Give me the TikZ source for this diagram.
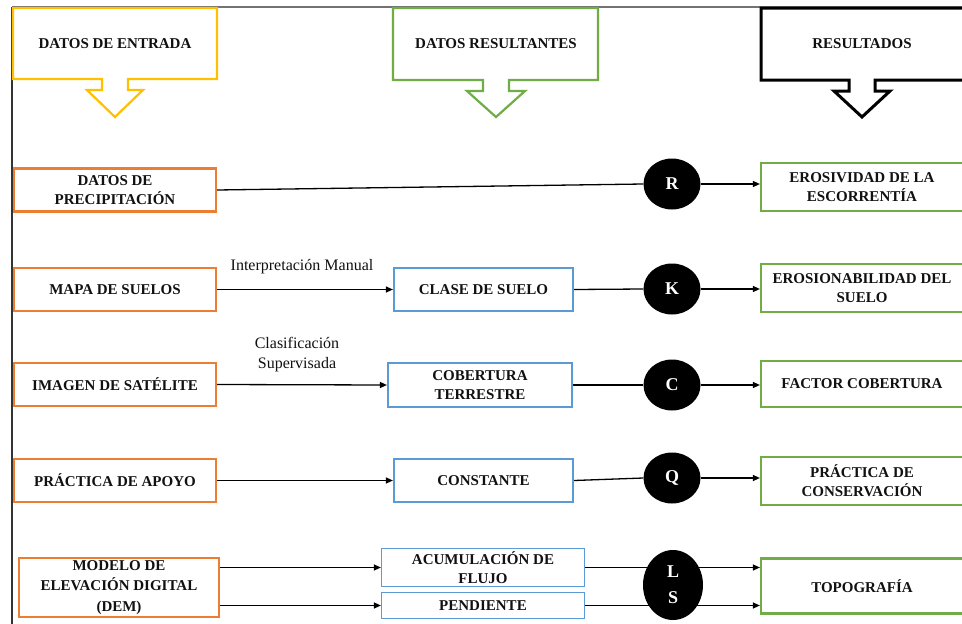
\documentclass[tikz,border=0pt]{standalone}
\usepackage{fontspec}
\setmainfont{Liberation Serif}
\usetikzlibrary{arrows.meta,shapes.geometric}
\definecolor{myorange}{HTML}{ED7D31}
\definecolor{myblue}{HTML}{5B9BD5}
\definecolor{mygreen}{HTML}{70AD47}
\definecolor{myyellow}{HTML}{FFC000}
\definecolor{txt}{HTML}{111111}
\begin{document}
\begin{tikzpicture}[x=1pt,y=-1pt,
  box/.style={draw, line width=2.2pt, fill=white, align=center, inner sep=1pt,
    font=\fontsize{15}{19}\selectfont\bfseries, text=txt},
  inbox/.style={box, draw=myorange, minimum width=202pt, minimum height=43pt},
  midbox/.style={box, draw=myblue, minimum height=43pt},
  thinbox/.style={box, draw=myblue, line width=1.2pt, minimum width=203pt},
  outbox/.style={box, draw=mygreen, minimum width=202pt, minimum height=48pt},
  factor/.style={ellipse, fill=black, minimum width=57pt, minimum height=51pt, inner sep=0pt,
    text=white, font=\fontsize{18}{27}\selectfont\bfseries, align=center},
  hdr/.style={line width=2.2pt, line join=miter},
  hdrtext/.style={font=\fontsize{15}{19}\selectfont\bfseries, text=txt},
  ln/.style={line width=1.3pt},
  arr/.style={line width=1.3pt, -{Triangle[length=7pt,width=6pt]}},
  lbl/.style={font=\fontsize{16}{20}\selectfont, align=center, text=txt}]
\useasboundingbox (0,0) rectangle (962,624);
\fill[white] (0,0) rectangle (962,624);

% frame
\draw[line width=1.5pt, black!55] (12,7) -- (962,7);
\draw[line width=1.2pt, black!80] (12,7) -- (12,624);

% headers
\draw[hdr, draw=myyellow] (13,8) -- (217,8) -- (217,79) -- (128,79) -- (128,90) -- (143,90)
  -- (115,117) -- (87,90) -- (102,90) -- (102,79) -- (13,79) -- cycle;
\node[hdrtext] (h1) at (115,44) {DATOS DE ENTRADA};
\draw[hdr, draw=mygreen] (393,8) -- (598,8) -- (598,80) -- (509,80) -- (509,91) -- (525,91)
  -- (496,117) -- (467,91) -- (483,91) -- (483,80) -- (393,80) -- cycle;
\node[hdrtext] (h2) at (496,44) {DATOS RESULTANTES};
\draw[hdr, line width=3pt, draw=black] (761,8) -- (968,8) -- (968,80) -- (875,80) -- (875,91) -- (890,91)
  -- (862,117) -- (834,91) -- (849,91) -- (849,80) -- (761,80) -- cycle;
\node[hdrtext] (h3) at (862,44) {RESULTADOS};

% input boxes
\node[inbox] (in1) at (115,190) {DATOS DE\\PRECIPITACIÓN};
\node[inbox] (in2) at (115,289.5) {MAPA DE SUELOS};
\node[inbox] (in3) at (115,384.5) {IMAGEN DE SATÉLITE};
\node[inbox] (in4) at (115,480.5) {PRÁCTICA DE APOYO};
\node[inbox, minimum width=200pt, minimum height=59pt, font=\fontsize{15}{20.5}\selectfont\bfseries]
  (in5) at (119,587.5) {MODELO DE\\ELEVACIÓN DIGITAL\\(DEM)};

% intermediate boxes
\node[midbox, minimum width=179pt] (m2) at (483.5,289.5) {CLASE DE SUELO};
\node[midbox, minimum width=184pt, minimum height=44pt] (m3) at (480,385) {COBERTURA\\TERRESTRE};
\node[midbox, minimum width=179pt] (m4) at (483.5,480.5) {CONSTANTE};
\node[thinbox, minimum height=38pt, inner sep=0pt, font=\fontsize{15}{18.5}\selectfont\bfseries]
  (m5a) at (483,567.5) {ACUMULACIÓN DE\\FLUJO};
\node[thinbox, minimum height=26pt, inner sep=0pt] (m5b) at (483,605.5) {PENDIENTE};

% result boxes
\node[outbox] (o1) at (862,187) {EROSIVIDAD DE LA\\ESCORRENTÍA};
\node[outbox] (o2) at (862,288) {EROSIONABILIDAD DEL\\SUELO};
\node[outbox, minimum height=46pt] (o3) at (862,384) {FACTOR COBERTURA};
\node[outbox] (o4) at (862,481) {PRÁCTICA DE\\CONSERVACIÓN};
\node[outbox, minimum height=55pt] (o5) at (862,586) {TOPOGRAFÍA};

% factors
\node[factor] (R) at (672,184) {R};
\node[factor] (K) at (672,289) {K};
\node[factor] (C) at (672,385) {C};
\node[factor] (Q) at (672,478) {Q};

% connectors
\draw[ln] (in1.east) -- (R.west);
\draw[arr] (R.east) -- (R.east -| o1.west);

\draw[arr] (in2.east) -- (m2.west);
\draw[ln] (m2.east) -- (K.west);
\draw[arr] (K.east) -- (K.east -| o2.west);

\draw[arr] (in3.east) -- (m3.west);
\draw[ln] (m3.east) -- (C.west);
\draw[arr] (C.east) -- (C.east -| o3.west);

\draw[arr] (in4.east) -- (m4.west);
\draw[ln] (m4.east) -- (Q.west);
\draw[arr] (Q.east) -- (Q.east -| o4.west);

\draw[arr] (in5.east |- m5a.west) -- (m5a.west);
\draw[arr] (in5.east |- m5b.west) -- (m5b.west);
\draw[arr] (m5a.east) -- (m5a.east -| o5.west);
\draw[arr] (m5b.east) -- (m5b.east -| o5.west);
\node[factor, minimum width=60pt, minimum height=70pt, font=\fontsize{18}{26}\selectfont\bfseries] (LS) at (673,585) {L\\S};

% labels
\node[lbl] (lab2) at (302,267) {Interpretación Manual};
\node[lbl] (lab3) at (297,355) {Clasificación\\Supervisada};
\end{tikzpicture}
\end{document}
